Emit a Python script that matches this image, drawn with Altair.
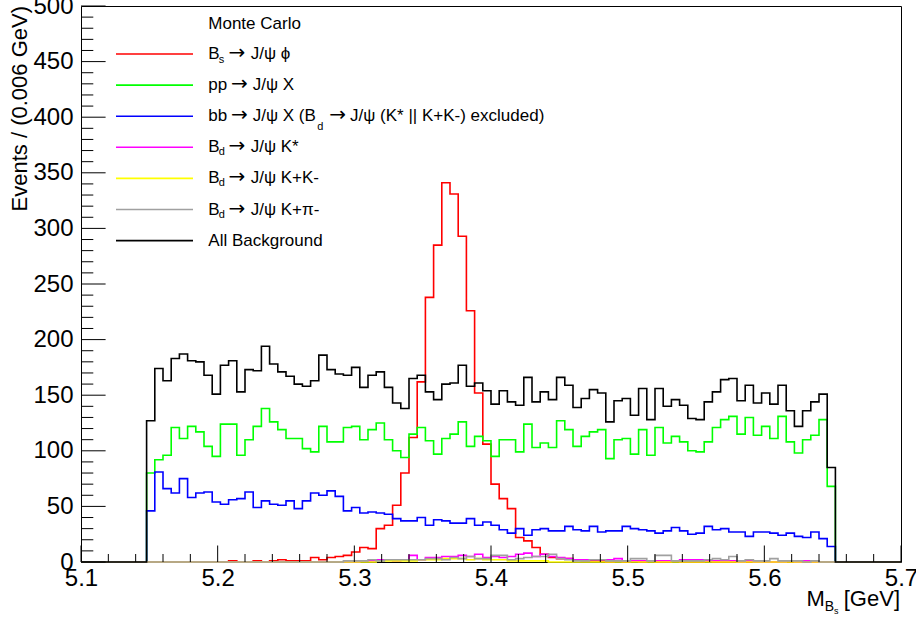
import altair as alt
import numpy as np
import pandas as pd

FONT = "Liberation Sans"
ARROW_FONT = "DejaVu Sans"
X_MIN, X_MAX = 5.1, 5.7
Y_MIN, Y_MAX = 0, 500
BIN_WIDTH = 0.006      # GeV per bin
FIRST_EDGE = 5.148     # lower edge of the first filled bin
W, H = 820, 556        # plot frame in pixels
PAD_L, PAD_T = 81, 6

# Events per 0.006 GeV bin, starting at FIRST_EDGE (84 bins)
bs_jpsi_phi = [
    0, 0, 0, 0, 0, 0, 0, 0, 0, 0,
    1, 0, 0, 1, 0, 1, 2, 1, 1, 1,
    4, 2, 4, 5, 6, 9, 13, 12, 30, 33,
    51, 80, 112, 162, 238, 285, 341, 331, 293, 226,
    152, 106, 70, 57, 48, 22, 19, 13, 7, 4,
    3, 3, 2, 1, 1, 1, 0, 1, 0, 1,
    0, 1, 0, 0, 1, 0, 0, 0, 1, 0,
    0, 0, 0, 0, 0, 0, 0, 0, 0, 0,
    0, 0, 0, 0,
]
pp_jpsi_x = [
    80, 92, 96, 121, 111, 122, 117, 104, 95, 124,
    124, 96, 110, 122, 138, 126, 119, 111, 111, 102,
    99, 122, 108, 108, 121, 122, 110, 119, 125, 110,
    100, 94, 115, 121, 109, 97, 111, 115, 126, 104,
    113, 109, 95, 110, 110, 99, 124, 103, 107, 103,
    127, 119, 104, 113, 117, 119, 93, 110, 111, 97,
    119, 96, 121, 107, 113, 108, 100, 99, 108, 121,
    128, 131, 115, 130, 114, 122, 111, 131, 108, 98,
    110, 114, 128, 68,
]
bb_jpsi_x = [
    46, 81, 66, 62, 75, 58, 62, 63, 54, 52,
    56, 57, 63, 49, 55, 52, 51, 55, 48, 55,
    62, 60, 64, 59, 46, 49, 44, 45, 44, 43,
    39, 37, 37, 40, 33, 38, 37, 35, 35, 39,
    33, 36, 33, 29, 26, 30, 24, 29, 30, 28,
    28, 32, 29, 28, 32, 27, 28, 28, 32, 30,
    29, 28, 26, 28, 31, 28, 25, 26, 32, 29,
    30, 27, 27, 23, 27, 27, 26, 24, 26, 23,
    22, 27, 21, 14,
]
bd_kstar = [
    0, 0, 0, 0, 0, 0, 0, 0, 0, 0,
    0, 0, 0, 0, 0, 0, 0, 0, 0, 0,
    0, 0, 0, 0, 0, 0, 1, 1, 2, 2,
    1, 2, 6, 2, 4, 4, 5, 5, 6, 5,
    7, 4, 5, 4, 5, 7, 8, 5, 7, 5,
    4, 3, 2, 2, 2, 2, 2, 3, 1, 1,
    1, 1, 1, 1, 1, 2, 2, 2, 1, 1,
    1, 1, 0, 1, 0, 0, 0, 0, 1, 0,
    1, 0, 0, 0,
]
bd_kk = [
    0, 0, 0, 0, 0, 0, 0, 0, 0, 0,
    0, 0, 0, 0, 0, 0, 0, 0, 0, 0,
    0, 0, 0, 0, 0, 0, 0, 0, 1, 1,
    1, 1, 1, 2, 2, 2, 3, 3, 3, 2,
    3, 2, 2, 2, 1, 1, 1, 1, 1, 0,
    0, 0, 0, 0, 0, 0, 0, 0, 0, 0,
    0, 0, 0, 0, 0, 0, 0, 0, 0, 0,
    0, 0, 0, 0, 0, 0, 0, 0, 0, 0,
    0, 0, 0, 0,
]
bd_kpi = [
    0, 0, 0, 0, 0, 0, 0, 0, 0, 0,
    0, 0, 0, 0, 0, 0, 0, 0, 0, 0,
    0, 0, 0, 0, 1, 1, 1, 2, 1, 2,
    2, 2, 2, 2, 3, 3, 2, 4, 3, 5,
    3, 3, 6, 6, 2, 3, 4, 5, 5, 7,
    3, 2, 1, 1, 2, 2, 1, 1, 1, 3,
    3, 1, 6, 6, 1, 1, 1, 1, 2, 3,
    2, 5, 1, 2, 1, 1, 3, 1, 1, 1,
    0, 1, 0, 0,
]
all_background = [
    127, 174, 163, 183, 187, 181, 180, 168, 151, 177,
    181, 153, 173, 172, 194, 178, 171, 167, 160, 158,
    163, 186, 173, 169, 168, 175, 157, 168, 171, 157,
    143, 138, 165, 168, 153, 146, 160, 161, 177, 158,
    161, 154, 142, 154, 144, 141, 166, 144, 153, 146,
    166, 159, 139, 147, 155, 152, 126, 145, 147, 132,
    156, 128, 156, 140, 146, 141, 129, 128, 144, 153,
    164, 165, 145, 159, 143, 152, 142, 159, 136, 122,
    136, 144, 151, 85,
]

colors = {
    "sig": "#ff0000",
    "pp": "#00ff00",
    "bb": "#0000ff",
    "kstar": "#ff00ff",
    "kk": "#ffff00",
    "kpi": "#a0a0a0",
    "all": "#000000",
}

x_scale = alt.Scale(domain=[X_MIN, X_MAX], nice=False, zero=False)
y_scale = alt.Scale(domain=[Y_MIN, Y_MAX], nice=False, zero=False)

x_axis = alt.Axis(
    values=[round(X_MIN + 0.1 * i, 1) for i in range(7)], format=".1f",
    labelFont=FONT, labelFontSize=24, labelColor="black", labelFlush=False,
    labelOverlap=False, labelPadding=4, ticks=False, tickSize=0,
    domain=False, grid=False, title=None,
)
y_axis = alt.Axis(
    values=list(range(0, 501, 50)),
    labelFont=FONT, labelFontSize=24, labelColor="black", labelFlush=False,
    labelOverlap=False, labelPadding=8, ticks=False, tickSize=0,
    domain=False, grid=False, title=None,
)


def step_frame(values):
    """Outline of a histogram: zero line, bin tops, drops at both ends."""
    n = len(values)
    edges = FIRST_EDGE + BIN_WIDTH * np.arange(n + 1)
    xs = [X_MIN, edges[0]] + list(edges[:-1]) + [edges[-1], edges[-1], X_MAX]
    ys = [0, 0] + list(values) + [values[-1], 0, 0]
    return pd.DataFrame({"m": xs, "n": ys, "i": range(len(xs))})


def hist(values, color):
    return alt.Chart(step_frame(values)).mark_line(
        interpolate="step-after", color=color, strokeWidth=1.6
    ).encode(
        x=alt.X("m:Q", scale=x_scale, axis=x_axis),
        y=alt.Y("n:Q", scale=y_scale, axis=y_axis),
        order="i:Q",
    )


# inward ticks, ROOT style
x_major = [round(X_MIN + 0.1 * i, 2) for i in range(7)]
x_minor = [round(X_MIN + 0.02 * i, 2) for i in range(31) if i % 5]
y_major = list(range(0, 501, 50))
y_minor = [v for v in range(0, 501, 10) if v % 50]


def x_ticks(vals, length):
    return alt.Chart(pd.DataFrame({"m": vals})).mark_rule(
        color="black", strokeWidth=1
    ).encode(
        x=alt.X("m:Q", scale=x_scale, axis=x_axis),
        y=alt.value(H), y2=alt.value(H - length),
    )


def y_ticks(vals, length):
    return alt.Chart(pd.DataFrame({"n": vals})).mark_rule(
        color="black", strokeWidth=1
    ).encode(
        y=alt.Y("n:Q", scale=y_scale, axis=y_axis),
        x=alt.value(0), x2=alt.value(length),
    )


one = pd.DataFrame({"a": [0]})


def txt(text, x, y, size, align="left", baseline="alphabetic", angle=0,
        font=FONT):
    """Text placed in page pixels (x, y measured from the canvas corner)."""
    props = dict(text=text, align=align, baseline=baseline, fontSize=size,
                 font=font, color="black")
    if angle:
        props["angle"] = angle
    return alt.Chart(one).mark_text(**props).encode(
        x=alt.value(x - PAD_L), y=alt.value(y - PAD_T)
    )


def arrow(x, y):
    return txt("\u2192", x, y, 20, font=ARROW_FONT)


def swatch(color, y):
    return alt.Chart(one).mark_rule(color=color, strokeWidth=1.6).encode(
        x=alt.value(116 - PAD_L), x2=alt.value(193 - PAD_L),
        y=alt.value(y - PAD_T)
    )


# legend
LX = 208.3
LS = 17        # legend text size
SS = 11        # subscript size
row_y = [54 + 31.1 * i for i in range(7)]
base = [y + 5 for y in row_y]
legend = [txt("Monte Carlo", LX, 29.3, LS)]
for i, key in enumerate(["sig", "pp", "bb", "kstar", "kk", "kpi", "all"]):
    legend.append(swatch(colors[key], row_y[i]))

# B_s -> J/psi phi
legend += [
    txt("B", LX, base[0], LS),
    txt("s", 218.8, base[0] + 4, SS),
    arrow(228.5, base[0]),
    txt("J/\u03c8 \u03d5", 250.7, base[0], LS),
]
# pp -> J/psi X
legend += [
    txt("pp", LX, base[1], LS),
    arrow(231.0, base[1]),
    txt("J/\u03c8 X", 252.7, base[1], LS),
]
# bb -> J/psi X (B_d -> J/psi (K* || K+K-) excluded)
legend += [
    txt("bb", LX, base[2], LS),
    arrow(231.0, base[2]),
    txt("J/\u03c8 X (B", 252.7, base[2], LS),
    txt("d", 317.3, base[2] + 8.5, SS),
    arrow(329.3, base[2]),
    txt("J/\u03c8 (K* || K+K-) excluded)", 350.0, base[2], LS),
]
for row, tail in [(3, "J/\u03c8 K*"), (4, "J/\u03c8 K+K-"),
                  (5, "J/\u03c8 K+\u03c0-")]:
    legend += [
        txt("B", LX, base[row], LS),
        txt("d", 218.8, base[row] + 3, SS),
        arrow(228.5, base[row]),
        txt(tail, 250.7, base[row], LS),
    ]
legend.append(txt("All Background", LX, base[6], LS))

# axis titles
TS = 22
x_title = [
    txt("[GeV]", 900, 606, TS, align="right"),
    txt("M", 824.8, 606, TS, align="right"),
    txt("B", 824.8, 611, 14),
    txt("s", 834.1, 614, 9),
]
y_title = [txt("Events / (0.006 GeV)", 20, PAD_T, TS, align="right",
               baseline="middle", angle=270)]

layers = [
    hist(bs_jpsi_phi, colors["sig"]),
    hist(pp_jpsi_x, colors["pp"]),
    hist(bb_jpsi_x, colors["bb"]),
    hist(bd_kstar, colors["kstar"]),
    hist(bd_kk, colors["kk"]),
    hist(bd_kpi, colors["kpi"]),
    hist(all_background, colors["all"]),
    x_ticks(x_major, 16.5), x_ticks(x_minor, 8),
    y_ticks(y_major, 24.6), y_ticks(y_minor, 12.3),
] + legend + x_title + y_title

chart = alt.layer(*layers).properties(
    width=W, height=H,
    padding={"left": PAD_L, "top": PAD_T, "right": 916 - PAD_L - W,
             "bottom": 618 - PAD_T - H},
    autosize=alt.AutoSizeParams(type="none"),
    background="white",
).configure_view(stroke="black", strokeWidth=1)

chart.save("out.html", embed_options={"renderer": "svg", "actions": False})
